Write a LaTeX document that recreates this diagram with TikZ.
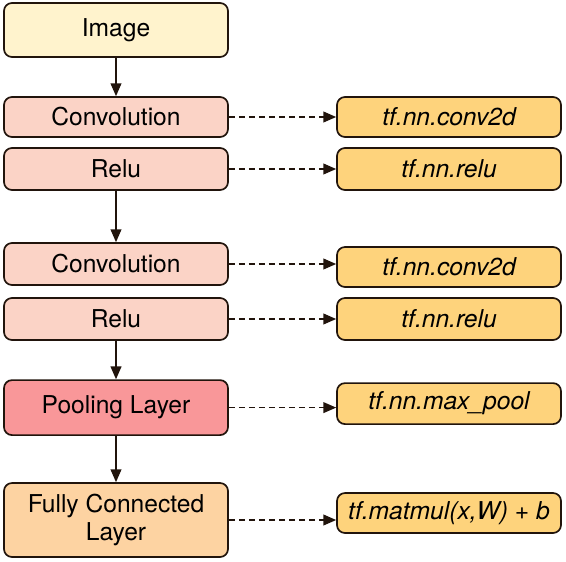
\documentclass[tikz,border=0pt]{standalone}
\usepackage{fontspec}
\setmainfont{TeX Gyre Heros}
\usetikzlibrary{arrows.meta}

\definecolor{imgfill}{HTML}{FFF3CD}
\definecolor{convfill}{HTML}{FBD3C6}
\definecolor{poolfill}{HTML}{F99799}
\definecolor{fcfill}{HTML}{FDD3A2}
\definecolor{tffill}{HTML}{FED37C}
\definecolor{edge}{HTML}{21140C}

\begin{document}
\begin{tikzpicture}[scale=1]
        % Define styles
        \tikzset{
            layer/.style={draw=edge, line width=1.2pt, rounded corners=0.2cm,
                minimum width=5.6cm, inner sep=0pt, align=center,
                font=\fontsize{17.5}{20}\selectfont},
            tfop/.style={layer, fill=tffill, font=\fontsize{17.5}{20}\selectfont\itshape},
            flow/.style={-{Triangle[length=0.32cm, width=0.27cm]}, line width=1pt, edge},
            maps/.style={-{Triangle[length=0.32cm, width=0.27cm]}, line width=1pt, edge,
                dash pattern=on 0.15cm off 0.1cm}
        }
        \useasboundingbox (0,0) rectangle (14.15,-14.025);
        % Network layers (left column)
        \node[layer, fill=imgfill, minimum height=1.35cm] (img) at (2.9,-0.75) {Image};
        \node[layer, fill=convfill, minimum height=1.0cm] (conva) at (2.9,-2.925) {Convolution};
        \node[layer, fill=convfill, minimum height=1.05cm] (relua) at (2.9,-4.225) {Relu};
        \node[layer, fill=convfill, minimum height=1.05cm] (convb) at (2.9,-6.6) {Convolution};
        \node[layer, fill=convfill, minimum height=1.05cm] (relub) at (2.9,-7.975) {Relu};
        \node[layer, fill=poolfill, minimum height=1.375cm] (pool) at (2.9,-10.19) {Pooling Layer};
        \node[layer, fill=fcfill, minimum height=1.85cm] (fc) at (2.9,-13.0) {Fully Connected\\Layer};
        % TensorFlow calls (right column)
        \node[tfop, minimum height=1.0cm] (tfconva) at (11.225,-2.925) {tf.nn.conv2d};
        \node[tfop, minimum height=1.05cm] (tfrelua) at (11.225,-4.225) {tf.nn.relu};
        \node[tfop, minimum height=1.0cm] (tfconvb) at (11.225,-6.675) {tf.nn.conv2d};
        \node[tfop, minimum height=1.05cm] (tfrelub) at (11.225,-7.975) {tf.nn.relu};
        \node[tfop, minimum height=1.025cm] (tfpool) at (11.225,-10.09) {tf.nn.max\_pool};
        \node[tfop, minimum height=1.0cm] (tffc) at (11.225,-12.825) {tf.matmul(x,W) + b};
        % Data flow
        \draw[flow] (img) -- (conva);
        \draw[flow] (relua) -- (convb);
        \draw[flow] (relub) -- (pool);
        \draw[flow] (pool) -- (fc);
        % Layer to call
        \draw[maps] (conva.east) -- (conva.east -| tfconva.west);
        \draw[maps] (relua.east) -- (relua.east -| tfrelua.west);
        \draw[maps] (convb.east) -- (convb.east -| tfconvb.west);
        \draw[maps] (relub.east) -- (relub.east -| tfrelub.west);
        \draw[maps] (pool.east) -- (pool.east -| tfpool.west);
        \draw[maps] (fc.east) -- (fc.east -| tffc.west);
    \end{tikzpicture}
\end{document}
